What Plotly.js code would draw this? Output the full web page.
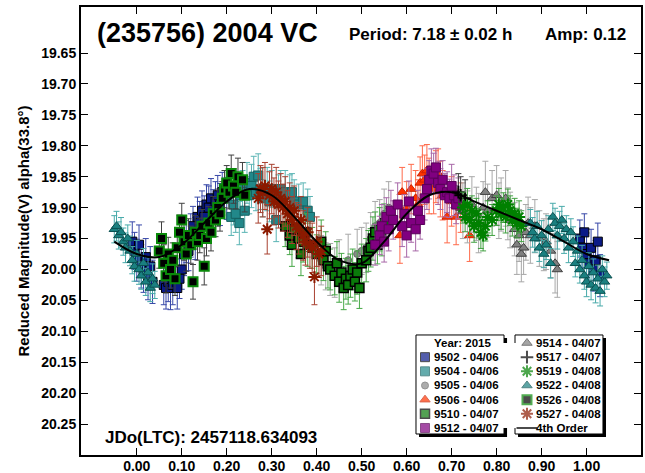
<!DOCTYPE html>
<html><head><meta charset="utf-8">
<script src="https://cdn.plot.ly/plotly-3.0.1.min.js"></script>
<style>html,body{margin:0;padding:0;background:#fff;}#chart{width:645px;height:473px;}</style>
</head><body><div id="chart"></div>
<script>
// ---------------- DATA ----------------
const xTickVals = [0.00,0.10,0.20,0.30,0.40,0.50,0.60,0.70,0.80,0.90,1.00];
const xTickText = ['0.00','0.10','0.20','0.30','0.40','0.50','0.60','0.70','0.80','0.90','1.00'];
const yTickVals = [19.65,19.70,19.75,19.80,19.85,19.90,19.95,20.00,20.05,20.10,20.15,20.20,20.25];
const yTickText = ['19.65','19.70','19.75','19.80','19.85','19.90','19.95','20.00','20.05','20.10','20.15','20.20','20.25'];

const seriesNames = ['9502 - 04/06','9504 - 04/06','9505 - 04/06','9506 - 04/06','9510 - 04/07','9512 - 04/07',
                     '9514 - 04/07','9517 - 04/07','9519 - 04/08','9522 - 04/08','9526 - 04/08','9527 - 04/08'];
const legendTitle = 'Year: 2015';
const fitName = '4th Order';

// [phase, reduced magnitude, error]
const s9502 = [[0.985,19.95,0.03],[0.99,19.965,0.032],[0.995,19.94,0.03],[1.0,19.975,0.034],[1.005,19.99,0.032],[1.01,19.965,0.03],[1.015,20.0,0.035],[1.02,19.985,0.032],[1.025,19.955,0.03],[1.03,20.01,0.034],
  [-0.01,19.955,0.032],[-0.005,19.97,0.03],[0.0,19.985,0.034],[0.005,19.96,0.032],[0.01,19.995,0.035],[0.015,20.005,0.032],[0.02,19.98,0.03],[0.025,20.015,0.034],[0.03,19.995,0.032],[0.035,20.02,0.035],
  [0.06,20.025,0.032],[0.065,20.03,0.034],[0.07,20.02,0.032],[0.075,20.03,0.035],[0.08,20.025,0.032],[0.09,20.03,0.034],[0.095,20.015,0.032],
  [0.10,20.0,0.032],[0.105,19.975,0.035],[0.11,19.955,0.034],[0.115,19.97,0.032],[0.12,19.945,0.035],[0.125,19.93,0.032],[0.13,19.95,0.034],[0.135,19.915,0.032],[0.14,19.925,0.035],[0.145,19.905,0.032],[0.15,19.915,0.034],[0.155,19.895,0.032],[0.16,19.9,0.035],[0.165,19.885,0.032],[0.17,19.905,0.034],[0.175,19.89,0.032],[0.18,19.88,0.032],[0.185,19.895,0.034],[0.19,19.875,0.032],[0.20,19.885,0.034]];
const s9504 = [[0.21,19.915,0.03],[0.215,19.895,0.033],[0.22,19.91,0.03],[0.228,19.925,0.035],[0.23,19.88,0.033],[0.235,19.87,0.03],[0.24,19.905,0.035],[0.245,19.86,0.033],[0.25,19.88,0.03],[0.255,19.865,0.035],[0.26,19.85,0.033],[0.265,19.875,0.03],[0.27,19.848,0.035],[0.275,19.87,0.033],[0.28,19.885,0.03],[0.29,19.87,0.035],[0.295,19.89,0.033],
  [0.30,19.87,0.03],[0.31,19.92,0.035],[0.315,19.88,0.033],[0.32,19.87,0.03],[0.33,19.875,0.035],[0.34,19.88,0.033],[0.345,19.875,0.03],[0.35,19.89,0.035],[0.36,19.895,0.033],[0.37,19.89,0.03],[0.38,19.905,0.035],[0.385,19.915,0.033]];
const s9505 = [[0.41,19.985,0.04],[0.42,19.995,0.038],[0.43,20.0,0.042],[0.44,20.005,0.04],[0.45,19.99,0.038],[0.47,19.985,0.042],[0.49,19.975,0.04],[0.50,19.97,0.038],[0.51,19.965,0.04],[0.52,19.95,0.042],[0.53,19.93,0.04],[0.54,19.925,0.038],[0.55,19.91,0.04],[0.56,19.9,0.042]];
const s9506 = [[0.585,19.945,0.045],[0.59,19.875,0.04],[0.60,19.9,0.042],[0.61,19.87,0.04],[0.62,19.885,0.045],[0.625,19.895,0.04],[0.63,19.86,0.042],[0.635,19.845,0.045],[0.64,19.855,0.04],[0.645,19.84,0.042],[0.65,19.865,0.045],[0.66,19.87,0.04],[0.665,19.85,0.042],[0.67,19.845,0.04],[0.675,19.87,0.045],[0.68,19.88,0.04],[0.69,19.915,0.042],[0.70,19.89,0.04],[0.71,19.915,0.045],[0.72,19.9,0.04],[0.74,19.945,0.042]];
const s9510 = [[0.33,19.93,0.033],[0.34,19.945,0.031],[0.345,19.96,0.035],[0.35,19.935,0.033],[0.36,19.95,0.031],[0.365,19.975,0.035],[0.37,19.955,0.033],[0.375,19.94,0.031],[0.38,19.96,0.035],[0.39,19.965,0.033],[0.40,19.975,0.031],[0.41,19.955,0.035],[0.415,19.985,0.033],[0.42,19.97,0.031],[0.425,19.995,0.035],[0.43,20.0,0.033],[0.44,20.01,0.031],[0.445,19.99,0.035],[0.45,20.02,0.033],[0.455,20.005,0.031],[0.46,20.03,0.035],[0.465,20.015,0.033],[0.47,20.025,0.031],[0.475,20.01,0.035],[0.48,20.0,0.033],[0.485,20.02,0.031],[0.49,20.005,0.035],[0.495,20.03,0.033],[0.50,19.99,0.031],[0.51,19.985,0.035],[0.515,19.97,0.033],[0.52,19.965,0.031],[0.525,19.95,0.035],[0.53,19.94,0.033],[0.535,19.96,0.031],[0.54,19.935,0.035],[0.545,19.945,0.033],[0.55,19.925,0.031]];
const s9512 = [[0.53,19.96,0.033],[0.54,19.945,0.031],[0.545,19.93,0.035],[0.55,19.955,0.033],[0.555,19.915,0.031],[0.56,19.935,0.035],[0.565,19.905,0.033],[0.57,19.92,0.031],[0.58,19.895,0.035],[0.59,19.93,0.033],[0.595,19.91,0.031],[0.60,19.945,0.035],[0.605,19.89,0.033],[0.61,19.925,0.031],[0.62,19.935,0.035],[0.625,19.905,0.033],[0.63,19.92,0.031],[0.64,19.885,0.035],[0.645,19.87,0.033],[0.65,19.855,0.031],[0.655,19.84,0.035],[0.66,19.845,0.033],[0.665,19.835,0.031],[0.67,19.86,0.035],[0.675,19.87,0.033],[0.68,19.855,0.031],[0.685,19.88,0.035],[0.69,19.875,0.033],[0.695,19.885,0.031],[0.70,19.865,0.035],[0.705,19.88,0.033],[0.71,19.895,0.031],[0.715,19.885,0.033]];
const s9514 = [[0.725,19.905,0.045],[0.735,19.915,0.042],[0.745,19.895,0.045],[0.755,19.91,0.043],[0.76,19.925,0.048],[0.77,19.9,0.042],[0.775,19.875,0.05],[0.78,19.905,0.043],[0.79,19.885,0.045],[0.80,19.88,0.048],[0.805,19.905,0.045],[0.81,19.895,0.043],[0.82,19.885,0.045],[0.825,19.91,0.042],[0.83,19.92,0.045],[0.84,19.935,0.043],[0.845,19.96,0.048],[0.85,19.945,0.042],[0.855,19.975,0.045],[0.86,19.965,0.043],[0.865,19.94,0.045],[0.87,19.925,0.042],[0.875,19.945,0.045],[0.885,19.93,0.043],[0.895,19.95,0.045],[0.905,19.96,0.042],[0.91,19.955,0.045],[0.92,19.97,0.043],[0.93,19.99,0.048],[0.935,20.0,0.045]];
const s9517 = [[0.715,19.875,0.03],[0.72,19.88,0.03],[0.73,19.885,0.03]];
const s9519 = [[0.725,19.9,0.025],[0.73,19.915,0.024],[0.735,19.895,0.026],[0.74,19.92,0.025],[0.745,19.905,0.024],[0.75,19.93,0.026],[0.755,19.91,0.025],[0.76,19.925,0.024],[0.765,19.94,0.026],[0.77,19.945,0.025],[0.775,19.93,0.024],[0.78,19.915,0.026],[0.79,19.92,0.025],[0.80,19.905,0.024],[0.805,19.895,0.026],[0.81,19.91,0.025],[0.815,19.9,0.024],[0.82,19.915,0.026],[0.825,19.895,0.025],[0.83,19.905,0.024],[0.835,19.92,0.026],[0.84,19.91,0.025],[0.845,19.925,0.024],[0.85,19.915,0.026],[0.855,19.93,0.025]];
const s9522 = [[0.875,19.925,0.022],[0.88,19.94,0.024],[0.885,19.95,0.022],[0.89,19.93,0.024],[0.895,19.965,0.022],[0.90,19.945,0.024],[0.905,19.975,0.022],[0.91,19.96,0.024],[0.915,19.935,0.022],[0.92,19.99,0.024],[0.925,19.915,0.022],[0.93,19.925,0.024],[0.935,19.945,0.022],[0.94,19.93,0.024],[0.945,19.92,0.022],[0.95,19.95,0.024],[0.955,19.935,0.022],[0.96,19.965,0.024],[0.965,19.94,0.022],[0.97,19.955,0.024],[0.975,19.99,0.022],[0.98,19.97,0.024],[0.985,20.0,0.022],[0.99,19.985,0.024],[0.995,20.01,0.022],[1.0,20.02,0.024],[1.005,19.995,0.022],[1.01,20.025,0.024],[1.015,20.005,0.022],[1.02,20.03,0.024],[1.025,20.015,0.022],[1.03,20.035,0.024],[1.035,20.0,0.022],[1.04,20.02,0.024],[1.045,20.01,0.022],
  [-0.05,19.935,0.022],[-0.045,19.93,0.024],[-0.04,19.945,0.022],[-0.035,19.94,0.024],[-0.03,19.955,0.022],[-0.025,19.965,0.024],[-0.02,19.95,0.022],[-0.015,19.97,0.024],[-0.01,19.985,0.022],[-0.005,19.995,0.024],[0.0,19.975,0.022],[0.005,20.0,0.024],[0.01,20.01,0.022],[0.015,19.99,0.024],[0.02,20.02,0.022],[0.025,20.005,0.024],[0.03,20.03,0.022],[0.035,20.015,0.024],[0.04,20.025,0.022]];
const s9526 = [[0.05,19.97,0.028],[0.055,19.95,0.027],[0.06,19.99,0.03],[0.065,20.01,0.028],[0.07,19.975,0.027],[0.075,20.0,0.03],[0.08,19.985,0.028],[0.085,20.015,0.027],[0.09,19.965,0.03],[0.095,19.94,0.028],[0.10,19.92,0.027],[0.105,19.955,0.03],[0.11,19.975,0.028],[0.115,19.945,0.027],[0.12,19.96,0.03],[0.125,20.02,0.028],[0.13,19.94,0.027],[0.135,19.955,0.03],[0.14,19.945,0.028],[0.145,19.93,0.027],[0.15,19.995,0.03],[0.155,19.95,0.028],[0.16,19.925,0.027],[0.165,19.94,0.03],[0.17,19.91,0.028],[0.175,19.92,0.027],[0.18,19.9,0.03],[0.185,19.91,0.028],[0.19,19.885,0.027],[0.195,19.87,0.03],[0.20,19.86,0.028],[0.205,19.875,0.027],[0.21,19.845,0.03],[0.215,19.865,0.028],[0.22,19.875,0.027],[0.225,19.85,0.03],[0.235,19.855,0.028],[0.24,19.88,0.027]];
const s9527 = [[0.27,19.885,0.04],[0.275,19.87,0.038],[0.28,19.875,0.04],[0.285,19.865,0.038],[0.29,19.935,0.04],[0.295,19.88,0.038],[0.30,19.87,0.04],[0.305,19.89,0.038],[0.31,19.875,0.04],[0.315,19.895,0.038],[0.32,19.885,0.04],[0.325,19.9,0.038],[0.33,19.89,0.04],[0.335,19.91,0.038],[0.34,19.9,0.04],[0.345,19.92,0.038],[0.35,19.905,0.04],[0.355,19.93,0.038],[0.36,19.935,0.04],[0.365,19.92,0.038],[0.37,19.945,0.04],[0.375,19.955,0.038],[0.38,19.94,0.04],[0.385,19.96,0.038],[0.39,19.965,0.04],[0.395,20.012,0.045],[0.40,19.955,0.04],[0.405,19.975,0.038],[0.41,19.97,0.04]];

const fitPhase = [-0.05,0.0,0.05,0.10,0.15,0.20,0.25,0.30,0.35,0.40,0.45,0.50,0.55,0.60,0.65,0.70,0.75,0.80,0.85,0.90,0.95,1.00,1.05];
const fitMag   = [19.955,19.975,19.98,19.96,19.925,19.89,19.87,19.88,19.915,19.955,19.985,19.99,19.955,19.91,19.88,19.875,19.89,19.905,19.92,19.935,19.955,19.975,19.985];

const seriesData = [s9502,s9504,s9505,s9506,s9510,s9512,s9514,s9517,s9519,s9522,s9526,s9527];

// ---------------- STYLES ----------------
const styles = [
  {symbol:'square', size:9, color:'#0b1a88', line:'#000000', lw:1, err:'#3848a8'},
  {symbol:'square', size:9, color:'#22888a', line:'#156060', lw:1, err:'#5ab4b4'},
  {symbol:'circle', size:7, color:'#8a8a8a', line:'#666666', lw:1, err:'#a8a8a8'},
  {symbol:'triangle-up', size:9, color:'#ff3300', line:'#cc2200', lw:1, err:'#ff6a4a'},
  {symbol:'square', size:9, color:'#0a7a0a', line:'#000000', lw:1.5, err:'#48a848'},
  {symbol:'square', size:9, color:'#800080', line:'#5a005a', lw:1, err:'#a868a8'},
  {symbol:'triangle-up', size:9, color:'#808080', line:'#404040', lw:1, err:'#a8a8a8'},
  {symbol:'cross-thin-open', size:9, color:'#000000', line:'#000000', lw:2, err:'#404040'},
  {symbol:'asterisk-open', size:10, color:'#008000', line:'#008000', lw:2, err:'#40a040'},
  {symbol:'triangle-up', size:9, color:'#1a8080', line:'#0a5050', lw:1, err:'#48aaaa'},
  {symbol:'square', size:9, color:'#000000', line:'#0a8a0a', lw:2, err:'#404040'},
  {symbol:'asterisk-open', size:10, color:'#8b1a00', line:'#8b1a00', lw:2, err:'#a84030'}
];
const FONT = '"Liberation Sans", Arial, Helvetica, sans-serif';

// ---------------- TRACES ----------------
const traces = [];
seriesData.forEach((d,i)=>{
  const st = styles[i];
  traces.push({
    type:'scatter', mode:'markers', name:seriesNames[i], showlegend:false,
    x:d.map(p=>p[0]), y:d.map(p=>p[1]),
    error_y:{type:'data', array:d.map(p=>p[2]), visible:true, color:st.err, thickness:1, width:3},
    marker:{symbol:st.symbol, size:st.size, color:st.color, line:{color:st.line, width:st.lw}}
  });
});
traces.push({type:'scatter', mode:'lines', name:fitName, showlegend:false, x:fitPhase, y:fitMag,
  line:{color:'#000', width:2, shape:'spline', smoothing:1}});

// custom two-box legend drawn on an auxiliary axis pair (column, row)
const legCols = seriesNames.map((n,i)=> i<6 ? 0 : 1);
const legRows = seriesNames.map((n,i)=> i<6 ? i+1 : i-6);
traces.push({type:'scatter', mode:'markers', xaxis:'x2', yaxis:'y2', showlegend:false, hoverinfo:'skip', cliponaxis:false,
  x:legCols.concat([1]), y:legRows.concat([6]),
  marker:{symbol:styles.map(s=>s.symbol).concat(['line-ew']),
          size:styles.map(s=>s.size).concat([15]),
          color:styles.map(s=>s.color).concat(['#000']),
          line:{color:styles.map(s=>s.line).concat(['#000']), width:styles.map(s=>s.lw).concat([2])}}});

const legendLabels = seriesNames.concat([fitName]);
const legendAnn = legendLabels.map((t,i)=>({
  xref:'x2', yref:'y2', x: i<12 ? legCols[i] : 1, y: i<12 ? legRows[i] : 6,
  text:t, showarrow:false, xanchor:'left', yanchor:'middle', xshift:7,
  font:{family:FONT, size:11.5, color:'#000', weight:'bold'}
}));
legendAnn.push({xref:'x2', yref:'y2', x:0, y:0, text:legendTitle, showarrow:false, xanchor:'left', yanchor:'middle', xshift:7,
  font:{family:FONT, size:11.5, color:'#000', weight:'bold'}});

const boxShapes = [];
[[0.5982,0.7554],[0.775,0.9321]].forEach(b=>{
  boxShapes.push({type:'rect', xref:'paper', yref:'paper', x0:b[0]+0.0054, x1:b[1]+0.0054, y0:0.0402, y1:0.2612,
    fillcolor:'#000', line:{width:0}, layer:'below'});
  boxShapes.push({type:'rect', xref:'paper', yref:'paper', x0:b[0], x1:b[1], y0:0.0469, y1:0.2679,
    fillcolor:'#fff', line:{color:'#000', width:1}, layer:'below'});
});

const layout = {
  width:645, height:473,
  margin:{l:81, r:4, t:7, b:18},
  paper_bgcolor:'#fff', plot_bgcolor:'#fff',
  showlegend:false,
  font:{family:FONT, color:'#000'},
  xaxis:{range:[-0.124,1.121], tickvals:xTickVals, ticktext:xTickText, ticks:'inside', ticklen:7, tickwidth:1,
    tickcolor:'#000', showline:true, linewidth:2, linecolor:'#000', mirror:'ticks', showgrid:false, zeroline:false,
    ticklabelstandoff:-3,
    tickfont:{family:FONT, size:14, color:'#000', weight:'bold'}, fixedrange:true},
  yaxis:{range:[20.30,19.5756], tickvals:yTickVals, ticktext:yTickText, ticks:'inside', ticklen:7, tickwidth:1,
    tickcolor:'#000', showline:true, linewidth:2, linecolor:'#000', mirror:'ticks', showgrid:false, zeroline:false,
    tickfont:{family:FONT, size:14, color:'#000', weight:'bold'}, fixedrange:true,
    title:{text:'Reduced Magnitude(V) alpha(33.8°)', font:{family:FONT, size:15, color:'#000', weight:'bold'}, standoff:8}},
  xaxis2:{domain:[0.6143,0.7964], range:[0,1], anchor:'y2', visible:false, fixedrange:true},
  yaxis2:{domain:[0.0603,0.25], range:[6,0], anchor:'x2', visible:false, fixedrange:true},
  shapes:boxShapes,
  annotations:[
    {xref:'paper', yref:'paper', x:0.025, y:0.942, xanchor:'left', yanchor:'middle', showarrow:false,
      text:'(235756) 2004 VC', font:{family:FONT, size:27, color:'#000', weight:'bold'}},
    {xref:'paper', yref:'paper', x:0.475, y:0.938, xanchor:'left', yanchor:'middle', showarrow:false,
      text:'Period: 7.18 ± 0.02 h', font:{family:FONT, size:17, color:'#000', weight:'bold'}},
    {xref:'paper', yref:'paper', x:0.825, y:0.938, xanchor:'left', yanchor:'middle', showarrow:false,
      text:'Amp: 0.12', font:{family:FONT, size:17, color:'#000', weight:'bold'}},
    {xref:'paper', yref:'paper', x:0.039, y:0.040, xanchor:'left', yanchor:'middle', showarrow:false,
      text:'JDo(LTC): 2457118.634093', font:{family:FONT, size:17, color:'#000', weight:'bold'}}
  ].concat(legendAnn)
};

Plotly.newPlot('chart', traces, layout, {staticPlot:true, displayModeBar:false});
</script></body></html>
